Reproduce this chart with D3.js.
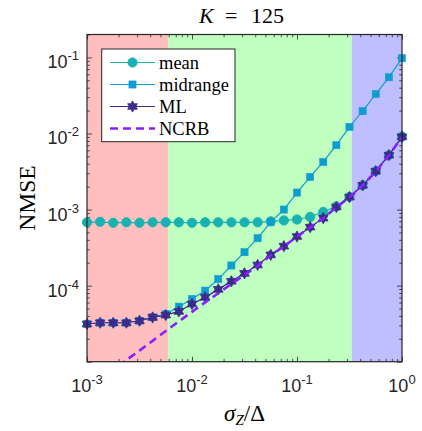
<!DOCTYPE html>
<html>
<head>
<meta charset="utf-8">
<script src="https://cdn.jsdelivr.net/npm/d3@7"></script>
<style>
  body { margin: 0; background: #fff; }
  svg { display: block; }
  .serif { font-family: "Liberation Serif", "DejaVu Serif", serif; }
</style>
</head>
<body>
<svg id="chart"></svg>
<script>
// sigma_Z / Delta values (25 points, log spaced)
var sigma = [0.001, 0.001334, 0.001778, 0.002371, 0.003162, 0.004217, 0.005623, 0.007499,
             0.01, 0.01334, 0.01778, 0.02371, 0.03162, 0.04217, 0.05623, 0.07499,
             0.1, 0.1334, 0.1778, 0.2371, 0.3162, 0.4217, 0.5623, 0.7499, 1];

var meanVals = [6.8e-4, 6.9e-4, 6.7e-4, 6.8e-4, 6.7e-4, 6.8e-4, 6.8e-4, 6.8e-4,
                6.7e-4, 6.8e-4, 6.8e-4, 6.8e-4, 6.8e-4, 6.8e-4, 7.0e-4, 7.2e-4,
                7.4e-4, 8.0e-4, 9.3e-4, 1.1e-3, 1.47e-3, 2.09e-3, 3.2e-3, 5.2e-3, 9.1e-3];

var midrangeVals = [3.13e-5, 3.25e-5, 3.25e-5, 3.25e-5, 3.45e-5, 3.85e-5, 4.24e-5, 5.29e-5,
                    6.67e-5, 8.59e-5, 1.22e-4, 1.84e-4, 2.75e-4, 4.2e-4, 6.84e-4, 1.0e-3,
                    1.67e-3, 2.68e-3, 4.22e-3, 7.02e-3, 1.22e-2, 1.97e-2, 3.3e-2, 5.48e-2, 9.76e-2];

var mlVals = [3.13e-5, 3.25e-5, 3.25e-5, 3.25e-5, 3.45e-5, 3.82e-5, 4.1e-5, 4.58e-5,
              5.73e-5, 7.01e-5, 8.93e-5, 1.14e-4, 1.45e-4, 1.87e-4, 2.54e-4, 3.3e-4,
              4.42e-4, 5.87e-4, 7.71e-4, 1.08e-3, 1.46e-3, 2.08e-3, 3.19e-3, 5.18e-3, 9.03e-3];

var ncrbVals = [4.31e-6, 5.79e-6, 7.76e-6, 1.05e-5, 1.40e-5, 1.88e-5, 2.53e-5, 3.39e-5,
                4.52e-5, 6.03e-5, 7.94e-5, 1.05e-4, 1.38e-4, 1.82e-4, 2.51e-4, 3.27e-4,
                4.4e-4, 5.83e-4, 7.66e-4, 1.07e-3, 1.45e-3, 2.07e-3, 3.16e-3, 5.15e-3, 9.0e-3];

// shaded regimes (x limits)
var regions = [
  {x0: 0.001, x1: 0.00594, color: "#ffbfbf"},
  {x0: 0.00594, x1: 0.332, color: "#bfffbf"},
  {x0: 0.332, x1: 1, color: "#bfbfff"}
];

var xTicks = [0.001, 0.01, 0.1, 1];
var xTickLabels = ["-3", "-2", "-1", "0"];
var yTicks = [1e-1, 1e-2, 1e-3, 1e-4];
var yTickLabels = ["-1", "-2", "-3", "-4"];

var W = 422, H = 431;
var margin = {top: 34.5, right: 20, bottom: 69.3, left: 87};
var width = 402 - margin.left,
    height = 361.7 - margin.top;

var colMean = "#19b2b2", colMid = "#0e9dd1", colML = "#3b2c8c", colNCRB = "#8a1eff";

var svg = d3.select("#chart").attr("width", W).attr("height", H);
var g = svg.append("g").attr("transform", `translate(${margin.left},${margin.top})`);

var x = d3.scaleLog().domain([0.001, 1]).range([0, width]);
var y = d3.scaleLog().domain([1e-5, 0.2]).range([height, 0]);

svg.append("defs").append("clipPath").attr("id", "plotclip")
  .append("rect").attr("width", width).attr("height", height);

// background regions
g.selectAll("rect.region")
  .data(regions)
  .join("rect")
  .attr("class", "region")
  .attr("x", d => x(d.x0))
  .attr("width", d => x(d.x1) - x(d.x0))
  .attr("y", 0)
  .attr("height", height)
  .attr("fill", d => d.color);

// axes (ticks inward on all 4 sides)
function minors(lo, hi) {
  var out = [];
  for (var e = lo; e < hi; e++)
    for (var k = 2; k <= 9; k++) out.push(k * Math.pow(10, e));
  return out;
}
var xMinor = minors(-3, 0);
var yMinor = minors(-5, 0).filter(v => v <= 0.2);
var yMajorAll = [1e-5, 1e-4, 1e-3, 1e-2, 1e-1];

function drawAxis(axisFn, scale, major, minor, transform) {
  var a = g.append("g").attr("transform", transform);
  a.call(axisFn(scale).tickValues(major).tickSize(-5).tickFormat(""));
  var b = g.append("g").attr("transform", transform);
  b.call(axisFn(scale).tickValues(minor).tickSize(-2.8).tickFormat(""));
  [a, b].forEach(s => {
    s.select(".domain").remove();
    s.selectAll("line").attr("stroke", "#262626").attr("stroke-width", 0.8);
  });
}
drawAxis(d3.axisBottom, x, xTicks, xMinor, `translate(0,${height})`);
drawAxis(d3.axisTop, x, xTicks, xMinor, "translate(0,0)");
drawAxis(d3.axisLeft, y, yMajorAll, yMinor, "translate(0,0)");
drawAxis(d3.axisRight, y, yMajorAll, yMinor, `translate(${width},0)`);

// series
var series = [
  {name: "mean", vals: meanVals, color: colMean, marker: "circle"},
  {name: "midrange", vals: midrangeVals, color: colMid, marker: "square"},
  {name: "ML", vals: mlVals, color: colML, marker: "hexagram"},
  {name: "NCRB", vals: ncrbVals, color: colNCRB, marker: null}
];

var line = d3.line().x(d => x(d[0])).y(d => y(d[1]));

function hexagram(r) {
  var pts = [];
  var ri = r / Math.sqrt(3);
  for (var k = 0; k < 12; k++) {
    var ang = -Math.PI / 2 + k * Math.PI / 6;
    var rr = (k % 2 === 0) ? r : ri;
    pts.push([rr * Math.cos(ang), rr * Math.sin(ang)]);
  }
  return "M" + pts.map(p => p.join(",")).join("L") + "Z";
}

function drawMarker(sel, type, color) {
  if (type === "circle") {
    sel.append("circle").attr("r", 4.6).attr("fill", color).attr("stroke", color);
  } else if (type === "square") {
    sel.append("rect").attr("x", -3.6).attr("y", -3.6).attr("width", 7.2).attr("height", 7.2)
      .attr("fill", color).attr("stroke", color).attr("stroke-width", 0.5);
  } else if (type === "hexagram") {
    sel.append("path").attr("d", hexagram(5.6)).attr("fill", color)
      .attr("stroke", color).attr("stroke-width", 0.8);
  }
}

series.forEach(s => {
  var pts = sigma.map((v, i) => [v, s.vals[i]]);
  var dashed = s.marker === null;
  g.append("path")
    .datum(pts)
    .attr("clip-path", "url(#plotclip)")
    .attr("d", line)
    .attr("fill", "none")
    .attr("stroke", s.color)
    .attr("stroke-width", dashed ? 2.6 : 1.2)
    .attr("stroke-dasharray", dashed ? "8,5" : null);
  if (s.marker) {
    g.selectAll(null)
      .data(pts)
      .join("g")
      .attr("transform", d => `translate(${x(d[0])},${y(d[1])})`)
      .each(function () { drawMarker(d3.select(this), s.marker, s.color); });
  }
});

// axes box
g.append("rect").attr("width", width).attr("height", height)
  .attr("fill", "none").attr("stroke", "#262626").attr("stroke-width", 1.2);

// tick labels
var tickFont = "'Liberation Sans', Arial, sans-serif";
xTicks.forEach((t, i) => {
  var txt = g.append("text")
    .attr("x", x(t)).attr("y", height + 30)
    .attr("text-anchor", "middle")
    .style("font-family", tickFont).style("font-size", "18px").attr("fill", "#262626");
  txt.append("tspan").text("10");
  txt.append("tspan").attr("dy", -8).style("font-size", "13px").text(xTickLabels[i]);
});
yTicks.forEach((t, i) => {
  var txt = g.append("text")
    .attr("x", -8).attr("y", y(t) + 11)
    .attr("text-anchor", "end")
    .style("font-family", tickFont).style("font-size", "18px").attr("fill", "#262626");
  txt.append("tspan").text("10");
  txt.append("tspan").attr("dy", -8).style("font-size", "13px").text(yTickLabels[i]);
});

// title  K = 125
var title = svg.append("g").attr("class", "serif").style("font-size", "22px");
title.append("text").attr("x", 199).attr("y", 23).style("font-style", "italic").text("K");
title.append("text").attr("x", 225).attr("y", 23).text("=");
title.append("text").attr("x", 251).attr("y", 23).text("125");

// x label
var xl = svg.append("text")
  .attr("class", "serif")
  .attr("x", margin.left + width / 2).attr("y", 421)
  .attr("text-anchor", "middle")
  .style("font-size", "23px");
xl.append("tspan").style("font-style", "italic").text("σ");
xl.append("tspan").attr("dy", 4).style("font-style", "italic").style("font-size", "15px").text("Z");
xl.append("tspan").attr("dy", -4).text("/Δ");

// y label
svg.append("text")
  .attr("class", "serif")
  .attr("transform", `translate(35,${margin.top + height / 2}) rotate(-90)`)
  .attr("text-anchor", "middle")
  .style("font-size", "23.5px")
  .text("NMSE");

// legend
var leg = svg.append("g");
leg.append("rect")
  .attr("x", 101.7).attr("y", 49).attr("width", 133.3).attr("height", 92.7)
  .attr("fill", "#fff").attr("stroke", "#262626").attr("stroke-width", 1);
series.forEach((s, i) => {
  var ly = 62.5 + i * 22;
  var row = leg.append("g");
  row.append("line")
    .attr("x1", 110).attr("x2", 155).attr("y1", ly).attr("y2", ly)
    .attr("stroke", s.color)
    .attr("stroke-width", s.marker ? 1.2 : 2.6)
    .attr("stroke-dasharray", s.marker ? null : "8,5");
  if (s.marker) {
    var mg = row.append("g").attr("transform", `translate(132.5,${ly})`);
    drawMarker(mg, s.marker, s.color);
  }
  row.append("text")
    .attr("class", "serif")
    .attr("x", 159).attr("y", ly + 6)
    .style("font-size", "18.5px")
    .text(s.name);
});
</script>
</body>
</html>
